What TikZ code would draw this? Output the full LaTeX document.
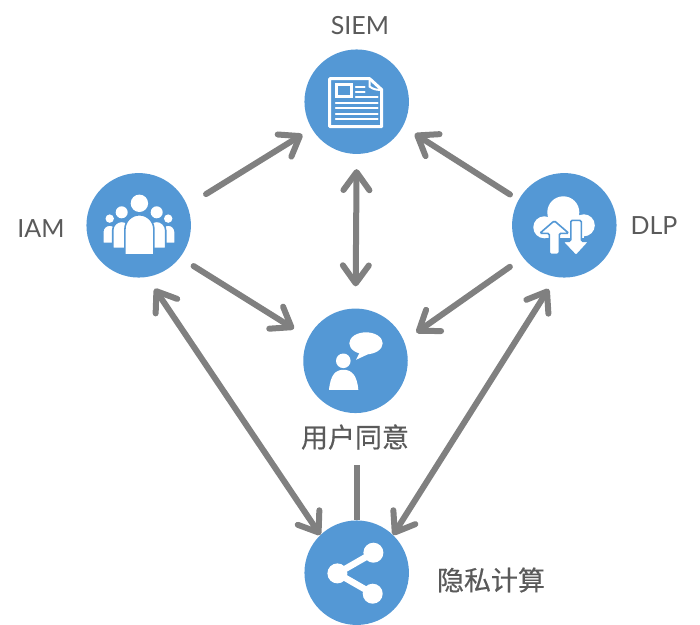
\documentclass[tikz,border=0pt]{standalone}
\usepackage{fontspec}
\setmainfont{Lato}
\newfontfamily\cjk[FakeBold=0.4]{Noto Sans CJK SC}
\usetikzlibrary{arrows.meta}
\definecolor{iconblue}{HTML}{5498D5}
\definecolor{linkgray}{HTML}{808080}
\definecolor{textgray}{HTML}{5A5A5A}
\tikzset{
  hub/.style={circle,fill=iconblue,minimum size=104.5bp,inner sep=0pt},
  link/.style={line width=6bp,draw=linkgray,line cap=round,
    >={Straight Barb[length=18bp,width=26bp,line cap=round,round]}},
  caption/.style={text=textgray,font=\fontsize{25bp}{28bp}\selectfont},
  cncaption/.style={text=textgray,font=\cjk\fontsize{27bp}{30bp}\selectfont},
  glyph/.style={fill=white,draw=iconblue,line width=1.6bp},
  ink/.style={draw=white,line width=3bp,line cap=round}
}
% head and dome of one figure: x, head y, head r, half width, shoulder y, foot y
\newcommand{\figureglyph}[6]{
  \fill[white] (#1bp,#2bp) circle (#3bp);
  \draw[glyph] (#1bp-#4bp,#6bp) -- (#1bp-#4bp,#5bp) arc(180:0:#4bp) -- (#1bp+#4bp,#6bp) -- cycle;
}
\begin{document}
\begin{tikzpicture}
\useasboundingbox (0bp,0bp) rectangle (700bp,-625bp);

\node (SIEM) at (356.7bp,-101.7bp)[hub] {};
\node (IAM) at (138.7bp,-225.3bp)[hub] {};
\node (DLP) at (564.3bp,-225.3bp)[hub] {};
\node (USER) at (355.5bp,-360.8bp)[hub] {};
\node (SHARE) at (356.7bp,-572.7bp)[hub] {};

\node (SIEMTXT) at (360bp,-26bp)[caption] {SIEM};
\node (IAMTXT) at (41bp,-229bp)[caption] {IAM};
\node (DLPTXT) at (654bp,-226bp)[caption] {DLP};
\node (USERTXT) at (355bp,-437bp)[cncaption] {用户同意};
\node (SHARETXT) at (491bp,-580bp)[cncaption] {隐私计算};

\draw [link,->,shorten <=22bp,shorten >=11bp] (IAM.22) to (SIEM.211);
\draw [link,->,shorten <=10bp,shorten >=14bp] (DLP.151) to (SIEM.332);
\draw [link,<->,shorten <=15bp,shorten >=22bp] (SIEM.270) to (USER.90);
\draw [link,->,shorten <=16bp,shorten >=17bp] (IAM.322) to (USER.154);
\draw [link,->,shorten <=16bp,shorten >=15bp] (DLP.218) to (USER.22);
\draw [link,<->,shorten <=14bp,shorten >=0bp] (IAM.279) to (SHARE.134);
\draw [link,<->,shorten <=14bp,shorten >=0bp] (DLP.261) to (SHARE.46);
\draw [link,line cap=butt,shorten <=12bp] (USERTXT.south -| SHARE.north) to (SHARE.north);

\begin{scope}[shift={(SIEM)}]
\draw [ink,line join=round] (-27bp,23bp) -- (13bp,23bp) -- (25bp,12bp) -- (25bp,-25bp) -- (-27bp,-25bp) -- cycle;
\draw [ink,line width=2bp] (13bp,23bp) -- (13bp,15bp) to[bend right=20] (25bp,12bp);
\draw [ink] (-20bp,17bp) rectangle (-5bp,5bp);
\draw [ink,line width=1.8bp] (-1bp,15bp) -- (8bp,15bp);
\draw [ink,line width=1.8bp] (-1bp,10bp) -- (8bp,10bp);
\draw [ink,line width=1.8bp] (-1bp,5bp) -- (21bp,5bp);
\foreach \lineh in {-1,-6,-12,-17}
  \draw [ink,line width=1.8bp] (-21bp,\lineh bp) -- (21bp,\lineh bp);
\end{scope}

\begin{scope}[shift={(IAM)}]
\figureglyph{-29}{6.7}{4.2}{7}{-6.7}{-18}
\figureglyph{29.5}{6.7}{4.2}{7}{-6.7}{-18}
\figureglyph{-17}{13}{6}{9}{-5}{-23}
\figureglyph{18}{13}{6}{9}{-5}{-23}
\figureglyph{0.7}{22}{8.7}{14.5}{-4}{-29.5}
\end{scope}

\begin{scope}[shift={(DLP)}]
\fill [white] (-1bp,13bp) circle (16bp);
\fill [white] (-20bp,-2bp) circle (11bp);
\fill [white] (19.5bp,0bp) circle (11bp);
\fill [white] (-20bp,-13bp) rectangle (19.5bp,5bp);
\draw [glyph,rounded corners=1.5bp] (11.7bp,-30.5bp) -- (25bp,-16bp) -- (17bp,-16bp) -- (17bp,5bp) -- (6.5bp,5bp) -- (6.5bp,-16bp) -- (-2bp,-16bp) -- cycle;
\draw [glyph,rounded corners=1.5bp] (-10bp,4.5bp) -- (4.5bp,-8bp) -- (-5bp,-8bp) -- (-5bp,-29bp) -- (-15bp,-29bp) -- (-15bp,-8bp) -- (-24.5bp,-8bp) -- cycle;
\end{scope}

\begin{scope}[shift={(USER)}]
\fill [white] (-12.2bp,0bp) circle (7.3bp);
\fill [white] (-26.5bp,-29bp) .. controls (-25bp,-14bp) and (-20bp,-9bp) .. (-12bp,-9bp) .. controls (-4bp,-9bp) and (1.5bp,-14bp) .. (2.8bp,-29bp) -- cycle;
\fill [white] (10.5bp,17.5bp) ellipse (16.7bp and 11bp);
\fill [white] (4.5bp,9bp) -- (0.5bp,1bp) -- (14.5bp,7.5bp) -- cycle;
\end{scope}

\begin{scope}[shift={(SHARE)}]
\fill [white] (16.7bp,20bp) circle (10bp);
\fill [white] (-19.3bp,-0.7bp) circle (10bp);
\fill [white] (16bp,-21bp) circle (10bp);
\draw [white,line width=6.5bp] (16.7bp,20bp) -- (-19.3bp,-0.7bp) -- (16bp,-21bp);
\end{scope}
\end{tikzpicture}
\end{document}
